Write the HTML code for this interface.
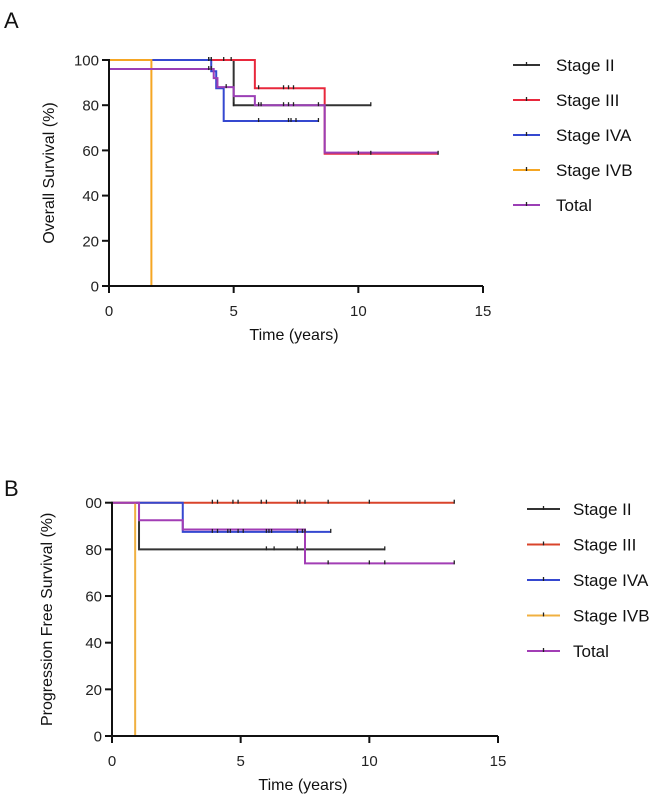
<!DOCTYPE html>
<html><head><meta charset="utf-8">
<style>
html,body{margin:0;padding:0;background:#fff;}
svg{display:block;font-family:"Liberation Sans",Arial,sans-serif;}
</style></head>
<body>
<svg id="c" width="670" height="802" viewBox="0 0 670 802">
<text x="4" y="28" font-size="22" fill="#111">A</text>
<text x="4" y="496" font-size="22" fill="#111">B</text>
</svg>
<script>
// Panel A data
const seriesNames = ["Stage II","Stage III","Stage IVA","Stage IVB","Total"];
const colorsA = ["#333","#e8283c","#3548d0","#f5a623","#9b3fb5"];
const colorsB = ["#333","#d9442b","#3548d0","#f0b040","#a23db5"];
const xTicks = [0,5,10,15];
const yTicks = [0,20,40,60,80,100];
const yTickLabelsA = ["0","20","40","60","80","100"];
const yTickLabelsB = ["0","20","40","60","80","00"];
// step curves: [time, survival] pairs (value after each time)
const osStageII = [[0,100],[5.0,80],[10.5,80]];
const osStageIII = [[0,100],[5.85,87.5],[8.65,58.5],[13.2,58.5]];
const osStageIVA = [[0,100],[4.1,95],[4.3,87.5],[4.6,73],[8.4,73]];
const osStageIVB = [[0,100],[1.7,0]];
const osTotal = [[0,96],[4.2,92],[4.35,88],[5.0,84],[5.85,80],[8.65,59],[13.2,59]];
const osCensorII = [4.0,4.1,4.6,4.9,5.0,10.5];
const osCensorIII = [4.0,4.1,6.0,7.0,7.2,7.4,10.0,10.5,13.2];
const osCensorIVA = [6.0,7.2,7.3,7.5,8.4];
const osCensorTotal = [4.0,4.1,4.7,6.0,6.1,7.0,7.2,7.4,8.4];
// Panel B data
const pfsStageII = [[0,100],[1.05,80],[10.6,80]];
const pfsStageIII = [[0,100],[13.3,100]];
const pfsStageIVA = [[0,100],[2.75,87.5],[8.5,87.5]];
const pfsStageIVB = [[0,100],[0.9,0]];
const pfsTotal = [[0,100],[1.05,92.5],[2.75,88.5],[7.5,74],[13.3,74]];
const pfsCensorIII = [3.9,4.1,4.7,4.9,5.8,6.0,7.2,7.3,7.5,8.4,10.0,13.3];
const pfsCensorIVA = [3.9,4.1,4.5,4.6,4.9,5.1,6.0,6.1,6.2,7.2,7.4,7.5,8.5];
const pfsCensorII = [6.0,6.3,7.2,10.6];
const pfsCensorTotal = [8.4,10.0,10.6,13.3];

const svg=document.getElementById('c');
const NS="http://www.w3.org/2000/svg";
function mk(tag,attrs,parent){const e=document.createElementNS(NS,tag);for(const k in attrs)e.setAttribute(k,attrs[k]);(parent||svg).appendChild(e);return e;}

function panel(cfg){
  const g=mk('g',{});
  
  
  const X=t=>cfg.x0+t*(cfg.x1-cfg.x0)/15;
  const Y=v=>cfg.y0-v*(cfg.y0-cfg.y100)/100;
  // series
  cfg.series.forEach((s,i)=>{
    let d='M'+X(s[0][0])+','+Y(s[0][1]);
    for(let k=1;k<s.length;k++){d+=' H'+X(s[k][0])+' V'+Y(s[k][1]);}
    const p=mk('path',{d:d,fill:'none',stroke:cfg.colors[i],'stroke-width':2},g);
    
    
  });
  // censor ticks
  cfg.censors.forEach(c=>{
    const s=cfg.series[c.idx];
    c.times.forEach(t=>{
      let v=s[0][1];for(const pt of s){if(pt[0]<=t)v=pt[1];}
      const l=mk('line',{x1:X(t),x2:X(t),y1:Y(v)-3,y2:Y(v)+1,stroke:'#222','stroke-width':1.3},g);
      
      
    });
  });
  // axes
  const ax=mk('path',{d:'M'+X(0)+','+(Y(100)-1)+' V'+cfg.y0+' H'+X(15),fill:'none',stroke:'#111','stroke-width':2},g);
  
  
  xTicks.forEach(t=>{
    mk('line',{x1:X(t),x2:X(t),y1:cfg.y0,y2:cfg.y0+7,stroke:'#111','stroke-width':2},g);
    const tx=mk('text',{x:X(t),y:cfg.y0+30,'font-size':15,'text-anchor':'middle',fill:'#222'},g);
    tx.textContent=t;
    
    
  });
  yTicks.forEach((v,i)=>{
    mk('line',{x1:X(0)-7,x2:X(0),y1:Y(v),y2:Y(v),stroke:'#111','stroke-width':2},g);
    const tx=mk('text',{x:X(0)-10,y:Y(v)+5.5,'font-size':15,'text-anchor':'end',fill:'#222'},g);
    tx.textContent=cfg.yLabels[i];
    
    
  });
  const xt=mk('text',{x:(X(0)+X(15))/2-2,y:cfg.y0+54,'font-size':16,'text-anchor':'middle',fill:'#111'},g);
  xt.textContent='Time (years)';
  
  
  const yc=(cfg.y0+cfg.y100)/2;
  const yt=mk('text',{x:0,y:0,'font-size':16,'text-anchor':'middle',fill:'#111',transform:'translate('+cfg.ytx+','+yc+') rotate(-90)'},g);
  yt.textContent=cfg.ytitle;
  
  
  // legend
  seriesNames.forEach((n,i)=>{
    const ly=cfg.ly0+i*cfg.ldy;
    const lg=mk('g',{},g);
    
    
    mk('line',{x1:cfg.lx,x2:cfg.lx+cfg.lw,y1:ly,y2:ly,stroke:cfg.colors[i],'stroke-width':2},lg);
    mk('line',{x1:cfg.lx+cfg.lw/2,x2:cfg.lx+cfg.lw/2,y1:ly-3,y2:ly+1,stroke:'#222','stroke-width':1.3},lg);
    const t=mk('text',{x:cfg.tx,y:ly+6,'font-size':17,fill:'#111'},lg);
    t.textContent=n;
  });
}
panel({id:'os',x0:109,x1:483,y0:286,y100:60,yLabels:yTickLabelsA,ytx:54,ytitle:'Overall Survival  (%)',
  colors:colorsA,series:[osStageII,osStageIII,osStageIVA,osStageIVB,osTotal],
  censors:[{idx:0,times:osCensorII},{idx:1,times:osCensorIII},{idx:2,times:osCensorIVA},{idx:4,times:osCensorTotal}],
  lx:513,lw:27,tx:556,ly0:65,ldy:35});
panel({id:'pfs',x0:112,x1:498,y0:736,y100:502.7,yLabels:yTickLabelsB,ytx:52,ytitle:'Progression Free Survival  (%)',
  colors:colorsB,series:[pfsStageII,pfsStageIII,pfsStageIVA,pfsStageIVB,pfsTotal],
  censors:[{idx:0,times:pfsCensorII},{idx:1,times:pfsCensorIII},{idx:2,times:pfsCensorIVA},{idx:4,times:pfsCensorTotal}],
  lx:527,lw:33,tx:573,ly0:509,ldy:35.5});
</script>
</body></html>
